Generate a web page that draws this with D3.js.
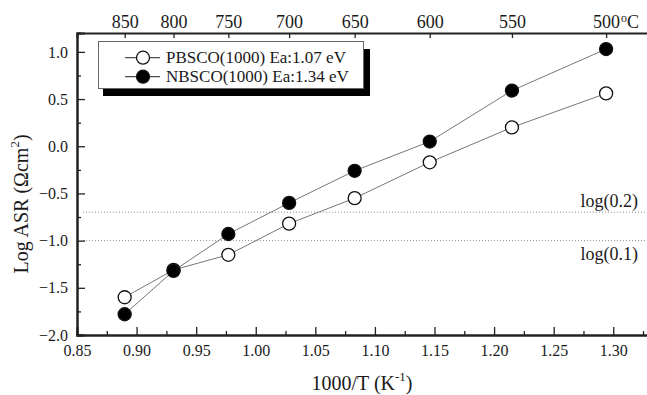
<!DOCTYPE html>
<html>
<head>
<meta charset="utf-8">
<script src="https://cdn.jsdelivr.net/npm/d3@7/dist/d3.min.js"></script>
<style>
  html, body { margin: 0; padding: 0; background: #fff; }
  svg { display: block; font-family: "Liberation Serif", "DejaVu Serif", serif; }
  svg text { font-family: "Liberation Serif", "DejaVu Serif", serif; }
</style>
</head>
<body>
<svg id="chart" width="647" height="395"></svg>
<script>
// Measurement temperatures (°C) and their reciprocal-temperature positions
const tempsC = [850, 800, 750, 700, 650, 600, 550, 500];
const invT = [0.890, 0.931, 0.977, 1.028, 1.083, 1.146, 1.215, 1.294];

// Log ASR values for each cathode
const pbsco = [-1.60, -1.31, -1.15, -0.82, -0.55, -0.17, 0.20, 0.56];
const nbsco = [-1.78, -1.32, -0.93, -0.60, -0.26, 0.05, 0.59, 1.03];

const seriesNames = ["PBSCO(1000) Ea:1.07 eV", "NBSCO(1000) Ea:1.34 eV"];

// Reference levels: log(0.2) and log(0.1)
const refLevels = [Math.log10(0.2), -1.0];
const refLabels = ["log(0.2)", "log(0.1)"];

const xTicks = [0.85, 0.90, 0.95, 1.00, 1.05, 1.10, 1.15, 1.20, 1.25, 1.30];
const yTicks = [-2.0, -1.5, -1.0, -0.5, 0.0, 0.5, 1.0];

const svg = d3.select("#chart");
const plotLeft = 77, plotRight = 649, plotTop = 33, plotBottom = 335;

const x = d3.scaleLinear().domain([0.85, 1.33]).range([plotLeft, plotRight]);
const y = d3.scaleLinear().domain([-2.0, 1.2]).range([plotBottom, plotTop]);

const axisColor = "#222";
const textColor = "#1a1a1a";

// Dotted reference lines
refLevels.forEach(v => {
  svg.append("line")
    .attr("x1", x(0.855)).attr("x2", plotRight)
    .attr("y1", y(v)).attr("y2", y(v))
    .attr("stroke", "#888").attr("stroke-width", 1)
    .attr("stroke-dasharray", "1,2");
});
svg.append("text").attr("x", 638).attr("y", y(refLevels[0]) - 5)
  .attr("text-anchor", "end").attr("font-size", 18).attr("fill", textColor).text(refLabels[0]);
svg.append("text").attr("x", 638).attr("y", y(refLevels[1]) + 19)
  .attr("text-anchor", "end").attr("font-size", 18).attr("fill", textColor).text(refLabels[1]);

// Bottom axis with minor ticks
const minorX = d3.range(0.875, 1.33, 0.05);
const gxMinor = svg.append("g").attr("transform", `translate(0,${plotBottom})`)
  .call(d3.axisBottom(x).tickValues(minorX).tickSize(-4).tickFormat(""));
const gx = svg.append("g").attr("transform", `translate(0,${plotBottom})`)
  .call(d3.axisBottom(x).tickValues(xTicks).tickSize(-8).tickPadding(10).tickFormat(d3.format(".2f")));

// Left axis with minor ticks
const minorY = d3.range(-1.75, 1.2, 0.5);
const gyMinor = svg.append("g").attr("transform", `translate(${plotLeft},0)`)
  .call(d3.axisLeft(y).tickValues(minorY).tickSize(-4).tickFormat(""));
const gy = svg.append("g").attr("transform", `translate(${plotLeft},0)`)
  .call(d3.axisLeft(y).tickValues(yTicks).tickSize(-8).tickPadding(9).tickFormat(d3.format(".1f")));

// Top axis: temperature in °C placed at reciprocal positions
const gt = svg.append("g").attr("transform", `translate(0,${plotTop})`)
  .call(d3.axisTop(x).tickValues(invT).tickSize(-5).tickPadding(5)
    .tickFormat((d, i) => String(tempsC[i])));

[gx, gy, gt, gxMinor, gyMinor].forEach(g => {
  g.attr("font-family", null);
  g.select(".domain").attr("stroke", axisColor).attr("stroke-width", 2);
  g.selectAll(".tick line").attr("stroke", axisColor).attr("stroke-width", 1.3);
  g.selectAll(".tick text").attr("fill", textColor);
});
gy.attr("font-size", 16);
gx.attr("font-size", 16);
gt.attr("font-size", 18);

// Degree-Celsius unit next to the last top tick
const lastTop = gt.selectAll(".tick").filter((d, i) => i === tempsC.length - 1);
lastTop.select("text").each(function() {
  const w = this.getComputedTextLength();
  d3.select(lastTop.node()).append("text")
    .attr("x", w / 2 + 1).attr("y", -5)
    .attr("fill", textColor).attr("font-size", 18)
    .attr("text-anchor", "start")
    .call(t => {
      t.append("tspan").attr("font-size", 12).attr("dy", -6).text("o");
      t.append("tspan").attr("dy", 6).text("C");
    });
});

// Axis titles
svg.append("text")
  .attr("transform", `translate(28,204) rotate(-90)`)
  .attr("text-anchor", "middle").attr("font-size", 20).attr("fill", textColor)
  .call(t => {
    t.append("tspan").text("Log ASR (Ωcm");
    t.append("tspan").attr("font-size", 13).attr("dy", -9).text("2");
    t.append("tspan").attr("dy", 9).text(")");
  });

svg.append("text")
  .attr("x", 362).attr("y", 390)
  .attr("text-anchor", "middle").attr("font-size", 20).attr("fill", textColor)
  .call(t => {
    t.append("tspan").text("1000/T (K");
    t.append("tspan").attr("font-size", 13).attr("dy", -9).text("-1");
    t.append("tspan").attr("dy", 9).text(")");
  });

// Series lines and markers
const line = d3.line().x((d, i) => x(invT[i])).y(d => y(d));
const series = [
  { values: pbsco, fill: "#fff" },
  { values: nbsco, fill: "#000" }
];
const r = 6.5;

series.forEach(s => {
  svg.append("path").datum(s.values)
    .attr("d", line).attr("fill", "none")
    .attr("stroke", "#777").attr("stroke-width", 1);
});
series.forEach(s => {
  svg.append("g").selectAll("circle").data(s.values).join("circle")
    .attr("cx", (d, i) => x(invT[i])).attr("cy", d => y(d)).attr("r", r)
    .attr("fill", s.fill).attr("stroke", "#111").attr("stroke-width", 1.3);
});

// Legend with drop shadow
const lg = svg.append("g");
lg.append("rect").attr("x", 103).attr("y", 49).attr("width", 267).attr("height", 47).attr("fill", "#000");
lg.append("rect").attr("x", 98.5).attr("y", 41.5).attr("width", 265).attr("height", 47)
  .attr("fill", "#fff").attr("stroke", "#666").attr("stroke-width", 1);
seriesNames.forEach((name, i) => {
  const ly = 57.7 + i * 19;
  lg.append("line").attr("x1", 125).attr("x2", 160).attr("y1", ly).attr("y2", ly)
    .attr("stroke", "#222").attr("stroke-width", 1);
  lg.append("circle").attr("cx", 143).attr("cy", ly).attr("r", r)
    .attr("fill", series[i].fill).attr("stroke", "#111").attr("stroke-width", 1.3);
  lg.append("text").attr("x", 166).attr("y", ly + 5)
    .attr("font-size", 17).attr("fill", textColor).text(name);
});
</script>
</body>
</html>
